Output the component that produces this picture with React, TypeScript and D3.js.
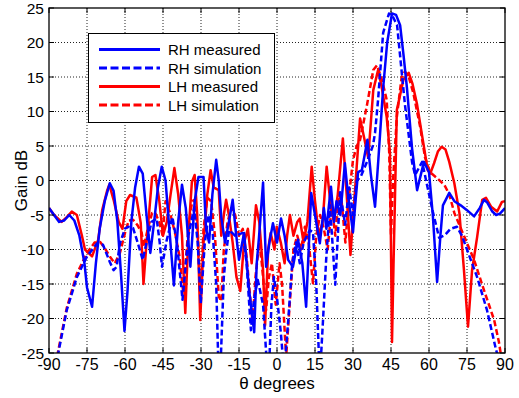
import React from "react";
import * as d3 from "d3";

const xTicks = [-90, -75, -60, -45, -30, -15, 0, 15, 30, 45, 60, 75, 90];
const yTicks = [-25, -20, -15, -10, -5, 0, 5, 10, 15, 20, 25];

const rhMeasured: [number, number][] = [
  [-90,-4],[-88,-5],[-86,-6],[-84,-5.8],[-82,-5],[-80,-5.8],[-78,-8],[-76,-12],[-75,-15.5],[-73,-18.3],[-71.5,-12],[-70,-7],[-68,-3],[-66,-0.4],[-64.5,-1.5],[-63,-6],[-61.5,-14],[-60.2,-21.8],[-59,-16],[-57.5,-6],[-56,-1],[-54.5,2],[-53,1],[-51.5,-5],[-50,-10.5],[-48.5,-6],[-47,-1],[-45.5,2],[-44,0],[-42.5,-7],[-40.7,-15.2],[-39,-6],[-37.5,-0.6],[-36,-4],[-34.2,-12.5],[-32.5,-3],[-31,0.5],[-29,0.5],[-28,-7],[-26.8,-9],[-25.5,-2],[-24,3],[-23,0],[-22,-5.3],[-20.5,-9],[-19,-6],[-17.5,-2.8],[-16.2,-7.6],[-15,-11.5],[-13,-7.6],[-11,-15.9],[-10,-19],[-9,-22],[-8,-12],[-7.1,-8.2],[-5.5,-0.3],[-4.3,-12.5],[-3,-9],[-1.6,-6.2],[0,-9],[1.6,-5.5],[3,-8],[4.4,-11.5],[6.3,-12.5],[8.3,-8.6],[10,-12],[11.5,-18.3],[13.5,-1.8],[15,-5],[16.9,-9.1],[18.5,-4],[19.5,-7],[21.3,-0.9],[22.5,-6],[23.5,-3],[25,-5],[26.8,2.5],[28,-2],[30,-7.5],[31,-3],[32,1.2],[33.5,1.5],[35.7,5.9],[37,1],[38.7,-3.8],[40,3],[41.9,13.4],[43.5,20],[45.4,24.2],[47,24],[48.6,22.5],[50,18],[51.3,13.4],[53.3,4.7],[55.3,-1.4],[58,2.7],[60,1.2],[61.5,-5],[63.2,-14.7],[64.5,-8],[65.5,-3.6],[68,-1.8],[70,-3],[72.5,-3.6],[75,-4.3],[77.8,-5.2],[80,-4],[81.7,-2.8],[83,-3.2],[85,-4.5],[86.5,-5],[88,-4.8],[90,-4]
];

const rhSimulation: [number, number][] = [
  [-86.6,-25.5],[-83,-18.8],[-79,-14],[-75,-11],[-71,-9.1],[-68.7,-9.3],[-66,-11.8],[-64.5,-13],[-63.3,-12.5],[-62,-9.1],[-60,-7],[-58.8,-6.7],[-56.8,-6.9],[-55,-9],[-53,-11.5],[-51.5,-9],[-49.5,-6],[-47.5,-5.5],[-46.3,-9],[-45.4,-12.5],[-43.5,-8.6],[-41.3,-5.3],[-39.5,-9],[-37.3,-17.3],[-35,-8],[-32.7,-4],[-31.3,-9],[-30.1,-17.8],[-28.5,-9],[-27,-5],[-25.5,-7],[-24,-15],[-23.2,-26],[-22.2,-26],[-21,-14],[-20.1,-10.5],[-18.9,-7.2],[-16.5,-8],[-13.5,-7.6],[-12,-12],[-10.3,-21.7],[-9,-17],[-7.6,-14.4],[-5.5,-18],[-4.1,-26],[-3,-26],[-2.2,-18],[-1.2,-14],[0,-17],[1.5,-22],[2.4,-26],[3.2,-26],[4.5,-20],[6,-12],[7.5,-9],[9,-12],[10.5,-9],[12.9,-7.2],[14.2,-7.5],[15.5,-15],[16.6,-26],[17.3,-26],[18.2,-20],[19.4,-11.5],[20.9,-3.6],[23,-15.1],[24.9,-1.7],[26.9,-6.4],[28.5,-1],[30,-5],[31.5,0],[33,0.5],[35.5,2.7],[37.9,5.1],[38.7,6.9],[39.9,11.7],[41.9,21.4],[44.2,24.2],[45.4,24],[47.4,22.5],[50.5,11],[53.3,2.7],[54.5,0.8],[57.3,2.7],[59.2,-0.6],[61.5,-4.5],[64,-8.3],[66.3,-7.9],[68.5,-7],[71,-6.7],[73,-8],[74.6,-9.6],[79,-14],[82.9,-18.8],[86.5,-24.6],[87.3,-25.5]
];

const lhMeasured: [number, number][] = [
  [-90,-4],[-88,-5],[-85,-6],[-83,-5.3],[-81,-4.5],[-79,-5],[-77,-8],[-75.8,-10],[-73,-11],[-70.6,-8.6],[-69,-4.3],[-67,-1.4],[-66.2,-0.6],[-64.5,-2.8],[-62.5,-6],[-61,-7],[-59.5,-3],[-58,-2.1],[-55.5,-2.5],[-53.8,-6.1],[-52.7,-15],[-51.5,-9],[-50.6,-5.2],[-49.3,0.5],[-48,0.8],[-46.5,-2.8],[-45,-8],[-43.5,-6],[-42,-2],[-40.5,1.8],[-39,-2],[-37.5,-8],[-36.2,-19.2],[-35,-8],[-33.6,-0.2],[-32.5,0.8],[-31.5,-5],[-30.3,-20.2],[-29,-9],[-27.5,-2],[-26.2,1.5],[-25,-1],[-23,-1.4],[-22,-8],[-21,-5],[-20.1,-2.8],[-19,-5],[-17.5,-9],[-16,-14],[-14.5,-16],[-13,-9],[-11.5,-7],[-10,-12],[-8.3,-3.6],[-7,-6],[-5.5,-13],[-4.7,-21],[-3.5,-10],[-2.5,-7.6],[-1,-10],[-0.1,-6.7],[1.5,-9],[3,-12],[4,-8],[5.1,-5],[6.5,-8],[8,-6],[9,-5.5],[10.5,-9],[12,-6],[13.7,2],[15,-3],[16.5,-8],[18,-6],[19.6,2],[21,-3],[22.5,-6],[24,-2],[26,6.1],[27.5,-2],[29,-10.8],[30.5,-3],[32.8,9],[34.5,6],[36,3.3],[38,13.1],[39.9,16],[41.3,13.6],[43.3,9.2],[44.6,4],[45,-10],[45.4,-23.4],[46,-12],[46.6,-2],[47.3,10.2],[49.9,14.6],[52,15.6],[53.5,14],[55.3,11],[57.5,6],[59.5,1.5],[60.5,1],[62,2.5],[63.5,4.2],[65,4.9],[66.5,4.5],[68,2.7],[70,-0.4],[72,-4.7],[73.8,-13],[75.4,-21.2],[77,-13],[79,-8.2],[81,-2.8],[82.5,-2.5],[84.5,-3.8],[86.9,-4.5],[88.8,-3.1],[90,-3]
];

const lhSimulation: [number, number][] = [
  [-86.8,-25.5],[-83,-18.5],[-79,-13.5],[-75,-10.5],[-72,-9],[-69.8,-8.9],[-68,-9.8],[-66,-11],[-64,-12],[-62,-10.5],[-60,-7.6],[-58.5,-5.8],[-56.8,-5.7],[-55,-6.5],[-53.4,-7.6],[-52.6,-9.6],[-51,-7],[-49.3,-4.7],[-48.1,-4.7],[-46.5,-6],[-45.2,-7.9],[-44,-3],[-42.2,-4.7],[-40,-8],[-38.5,-11],[-37,-16.3],[-35,-7],[-33.5,-3],[-32.5,-2.8],[-31.2,-8],[-30.2,-16.8],[-29,-7],[-27.5,-2.5],[-26,-3],[-24.5,-8],[-23,-16.8],[-22,-17.5],[-21,-10],[-19.5,-6],[-18,-4],[-16.5,-5],[-15,-8],[-13.5,-7],[-12,-11],[-10.8,-16],[-9.6,-20.7],[-8.5,-14],[-7,-9],[-6,-12],[-4.3,-18.8],[-3.2,-14],[-2,-12],[-0.5,-18],[1,-12],[2,-15],[3.6,-25.6],[5,-18],[6.5,-10],[8,-8],[9.5,-10],[11,-6.7],[12.5,-9],[14.2,-14.9],[15.5,-8],[17,-5],[18.5,-7],[20,-10],[21.6,-3.6],[23,-8],[24.5,-2],[25.5,-3],[27,-9],[28.5,-2],[30,3],[31.5,5],[32.8,5.9],[35.4,10.7],[38,16],[39.5,16.7],[41.5,14.5],[43.3,11.7],[44.3,4],[45,-8],[45.8,0],[47.3,9.2],[49.2,15],[50.5,15.8],[52,15],[53.8,12.7],[56.5,7.8],[58.4,3.4],[60.4,1.2],[63,0.4],[66,-0.6],[68,-2],[70,-4.7],[74,-8.2],[77.8,-11.5],[81.7,-15.9],[85.7,-20.2],[87.6,-23.4],[88.5,-25.5]
];

const legendItems = [
  { label: "RH measured", color: "#0000ff", dashed: false },
  { label: "RH simulation", color: "#0000ff", dashed: true },
  { label: "LH measured", color: "#ff0000", dashed: false },
  { label: "LH simulation", color: "#ff0000", dashed: true },
];

export default function App() {
  const W = 519, H = 398;
  const L = 49, R = 505, T = 8, B = 353;
  const x = d3.scaleLinear().domain([-90, 90]).range([L, R]);
  const y = d3.scaleLinear().domain([-25, 25]).range([B, T]);
  const line = d3.line<[number, number]>().x(d => x(d[0])).y(d => y(d[1]));
  const font = "Liberation Sans, Arial, sans-serif";
  const series = [
    { data: lhSimulation, color: "#ff0000", dash: "6,3" },
    { data: lhMeasured, color: "#ff0000", dash: null },
    { data: rhSimulation, color: "#0000ff", dash: "6,3" },
    { data: rhMeasured, color: "#0000ff", dash: null },
  ];
  return (
    <svg width={W} height={H} style={{ position: "absolute", left: 0, top: 0, background: "#fff" }}>
      <defs>
        <clipPath id="plot"><rect x={L} y={T} width={R - L} height={B - T} /></clipPath>
      </defs>
      <rect x={0} y={0} width={W} height={H} fill="#fff" />
      {xTicks.slice(1, -1).map(t => (
        <line key={"gx" + t} x1={x(t)} x2={x(t)} y1={T} y2={B} stroke="#222" strokeWidth={1} strokeDasharray="1,2" />
      ))}
      {yTicks.slice(1, -1).map(t => (
        <line key={"gy" + t} x1={L} x2={R} y1={y(t)} y2={y(t)} stroke="#222" strokeWidth={1} strokeDasharray="1,2" />
      ))}
      <g clipPath="url(#plot)">
        {series.map((s, i) => (
          <path key={i} d={line(s.data) || ""} fill="none" stroke={s.color} strokeWidth={2.5}
            strokeDasharray={s.dash || undefined} strokeLinejoin="round" />
        ))}
      </g>
      {xTicks.map(t => (
        <g key={"tx" + t}>
          <line x1={x(t)} x2={x(t)} y1={B} y2={B - 5} stroke="#000" />
          <line x1={x(t)} x2={x(t)} y1={T} y2={T + 5} stroke="#000" />
          <text x={x(t)} y={370} textAnchor="middle" fontFamily={font} fontSize={16}>{t}</text>
        </g>
      ))}
      {yTicks.map(t => (
        <g key={"ty" + t}>
          <line x1={L} x2={L + 5} y1={y(t)} y2={y(t)} stroke="#000" />
          <line x1={R} x2={R - 5} y1={y(t)} y2={y(t)} stroke="#000" />
          <text x={44} y={y(t) + 5.5} textAnchor="end" fontFamily={font} fontSize={15.5}>{t}</text>
        </g>
      ))}
      <rect x={L} y={T} width={R - L} height={B - T} fill="none" stroke="#000" strokeWidth={1.3} />
      <text x={0} y={0} transform={`translate(27,${(T + B) / 2}) rotate(-90)`} textAnchor="middle" fontFamily={font} fontSize={17}>Gain dB</text>
      <text x={(L + R) / 2} y={389} textAnchor="middle" fontFamily={font} fontSize={17}>θ degrees</text>
      <g>
        <rect x={88.5} y={33.5} width={186} height={89} fill="#fff" stroke="#000" strokeWidth={1} />
        {legendItems.map((it, i) => {
          const ly = 49.5 + i * 18.5;
          return (
            <g key={it.label}>
              <line x1={99} x2={160} y1={ly} y2={ly} stroke={it.color} strokeWidth={3}
                strokeDasharray={it.dashed ? "8,3.5" : undefined} />
              <text x={168} y={ly + 5.5} fontFamily={font} fontSize={15}>{it.label}</text>
            </g>
          );
        })}
      </g>
    </svg>
  );
}
